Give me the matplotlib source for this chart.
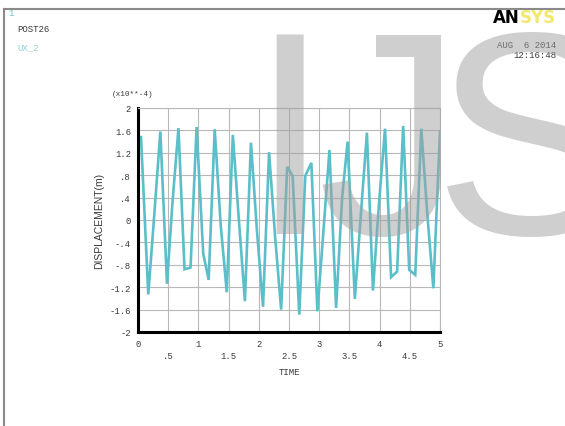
import matplotlib
matplotlib.use("Agg")

import matplotlib.pyplot as plt
import numpy as np

# UX_2 displacement history (x10**-4 m)
time = [0.05, 0.17, 0.27, 0.37, 0.48, 0.57, 0.67, 0.77, 0.87, 0.97,
        1.08, 1.17, 1.27, 1.37, 1.47, 1.57, 1.67, 1.77, 1.87, 1.97,
        2.07, 2.17, 2.27, 2.37, 2.47, 2.56, 2.67, 2.77, 2.87, 2.97,
        3.07, 3.17, 3.28, 3.38, 3.47, 3.59, 3.69, 3.79, 3.89, 3.99,
        4.09, 4.19, 4.29, 4.39, 4.49, 4.59, 4.69, 4.79, 4.89, 5.0]
disp = [1.48, -1.33, 0.10, 1.58, -1.14, 0.30, 1.64, -0.88, -0.85, 1.66,
        -0.60, -1.07, 1.62, -0.10, -1.29, 1.52, 0.00, -1.45, 1.38, -0.20,
        -1.55, 1.21, -0.30, -1.60, 0.95, 0.79, -1.69, 0.79, 1.02, -1.63,
        -0.20, 1.25, -1.57, 0.40, 1.40, -1.41, 0.10, 1.56, -1.26, 0.30,
        1.63, -1.02, -0.92, 1.68, -0.89, -0.98, 1.63, 0.10, -1.22, 1.58]

yticks = [-2, -1.6, -1.2, -0.8, -0.4, 0, 0.4, 0.8, 1.2, 1.6, 2]
ytick_labels = ["-2", "-1.6", "-1.2", "-.8", "-.4", "0", ".4", ".8", "1.2", "1.6", "2"]
xticks_major = [0, 1, 2, 3, 4, 5]
xtick_labels_major = ["0", "1", "2", "3", "4", "5"]
xticks_minor = [0.5, 1.5, 2.5, 3.5, 4.5]
xtick_labels_minor = [".5", "1.5", "2.5", "3.5", "4.5"]

MONO = "Liberation Mono"
TXT = "#3a3a3a"
LINE = "#5bbfca"

fig = plt.figure(figsize=(5.65, 4.27), dpi=100)
ax = fig.add_axes([138 / 565, 1 - 333 / 427, 302 / 565, 224 / 427])

ax.plot(time, disp, color=LINE, lw=1.9, solid_joinstyle="miter")
ax.set_xlim(0, 5)
ax.set_ylim(-2, 2)

ax.set_yticks(yticks)
ax.set_yticklabels(ytick_labels, fontfamily=MONO, fontsize=6.4, color=TXT)
ax.set_xticks(xticks_major)
ax.set_xticklabels(xtick_labels_major, fontfamily=MONO, fontsize=6.4, color=TXT)
ax.set_xticks(xticks_minor, minor=True)
ax.set_xticklabels(xtick_labels_minor, minor=True, fontfamily=MONO, fontsize=6.4, color=TXT)
ax.tick_params(axis="both", which="both", length=0)
ax.tick_params(axis="x", which="major", pad=5)
ax.tick_params(axis="x", which="minor", pad=14)
ax.tick_params(axis="y", pad=5)
ax.grid(True, which="both", color="#b8b8b8", lw=0.8)
ax.set_axisbelow(True)

for side in ["top", "right"]:
    ax.spines[side].set_color("#b8b8b8")
    ax.spines[side].set_linewidth(0.8)
for side in ["left", "bottom"]:
    ax.spines[side].set_color("black")
    ax.spines[side].set_linewidth(2.2)

ax.set_xlabel("TIME", fontfamily=MONO, fontsize=6.5, color=TXT, labelpad=5)
ax.set_ylabel("DISPLACEMENT(m)", fontfamily="Liberation Sans", fontsize=7.5, color=TXT, labelpad=4)
fig.text(112 / 565, 1 - 94 / 427, "(x10**-4)", fontfamily=MONO, fontsize=5.5, color=TXT, va="center")

# ANSYS window header
fig.text(8 / 565, 1 - 14 / 427, "1", fontfamily=MONO, fontsize=6.5, color="#6fc3cc", va="center")
fig.text(17 / 565, 1 - 30 / 427, "POST26", fontfamily=MONO, fontsize=6.5, color=TXT, va="center")
fig.text(17 / 565, 1 - 48 / 427, "UX_2", fontfamily=MONO, fontsize=6.5, color="#8fd0d8", va="center")
fig.text(493 / 565, 1 - 18 / 427, "AN", fontfamily="DejaVu Sans", fontweight="bold",
         fontsize=12, color="black", va="center")
fig.text(520 / 565, 1 - 18 / 427, "SYS", fontfamily="DejaVu Sans", fontweight="bold",
         fontsize=12, color="#f2e86a", va="center")
fig.text(556 / 565, 1 - 45 / 427, "AUG  6 2014", fontfamily=MONO, fontsize=6.5, color=TXT,
         va="center", ha="right")
fig.text(556 / 565, 1 - 56 / 427, "12:16:48", fontfamily=MONO, fontsize=6.5, color=TXT,
         va="center", ha="right")

# window border
fig.add_artist(plt.Line2D([4 / 565, 4 / 565], [0, 1 - 10 / 427], color="#8a8a8a", lw=1.5))
fig.add_artist(plt.Line2D([4 / 565, 1], [1 - 10 / 427, 1 - 10 / 427], color="#8a8a8a", lw=1.5))

# watermark letters
for letter, xc in [("I", 289), ("J", 390), ("S", 530)]:
    fig.text(xc / 565, 1 - 234 / 427, letter, fontfamily="Liberation Sans", fontsize=208,
             color="#a0a0a0", alpha=0.5, va="baseline", ha="center", zorder=10)

fig.savefig("out.png", dpi=100)
